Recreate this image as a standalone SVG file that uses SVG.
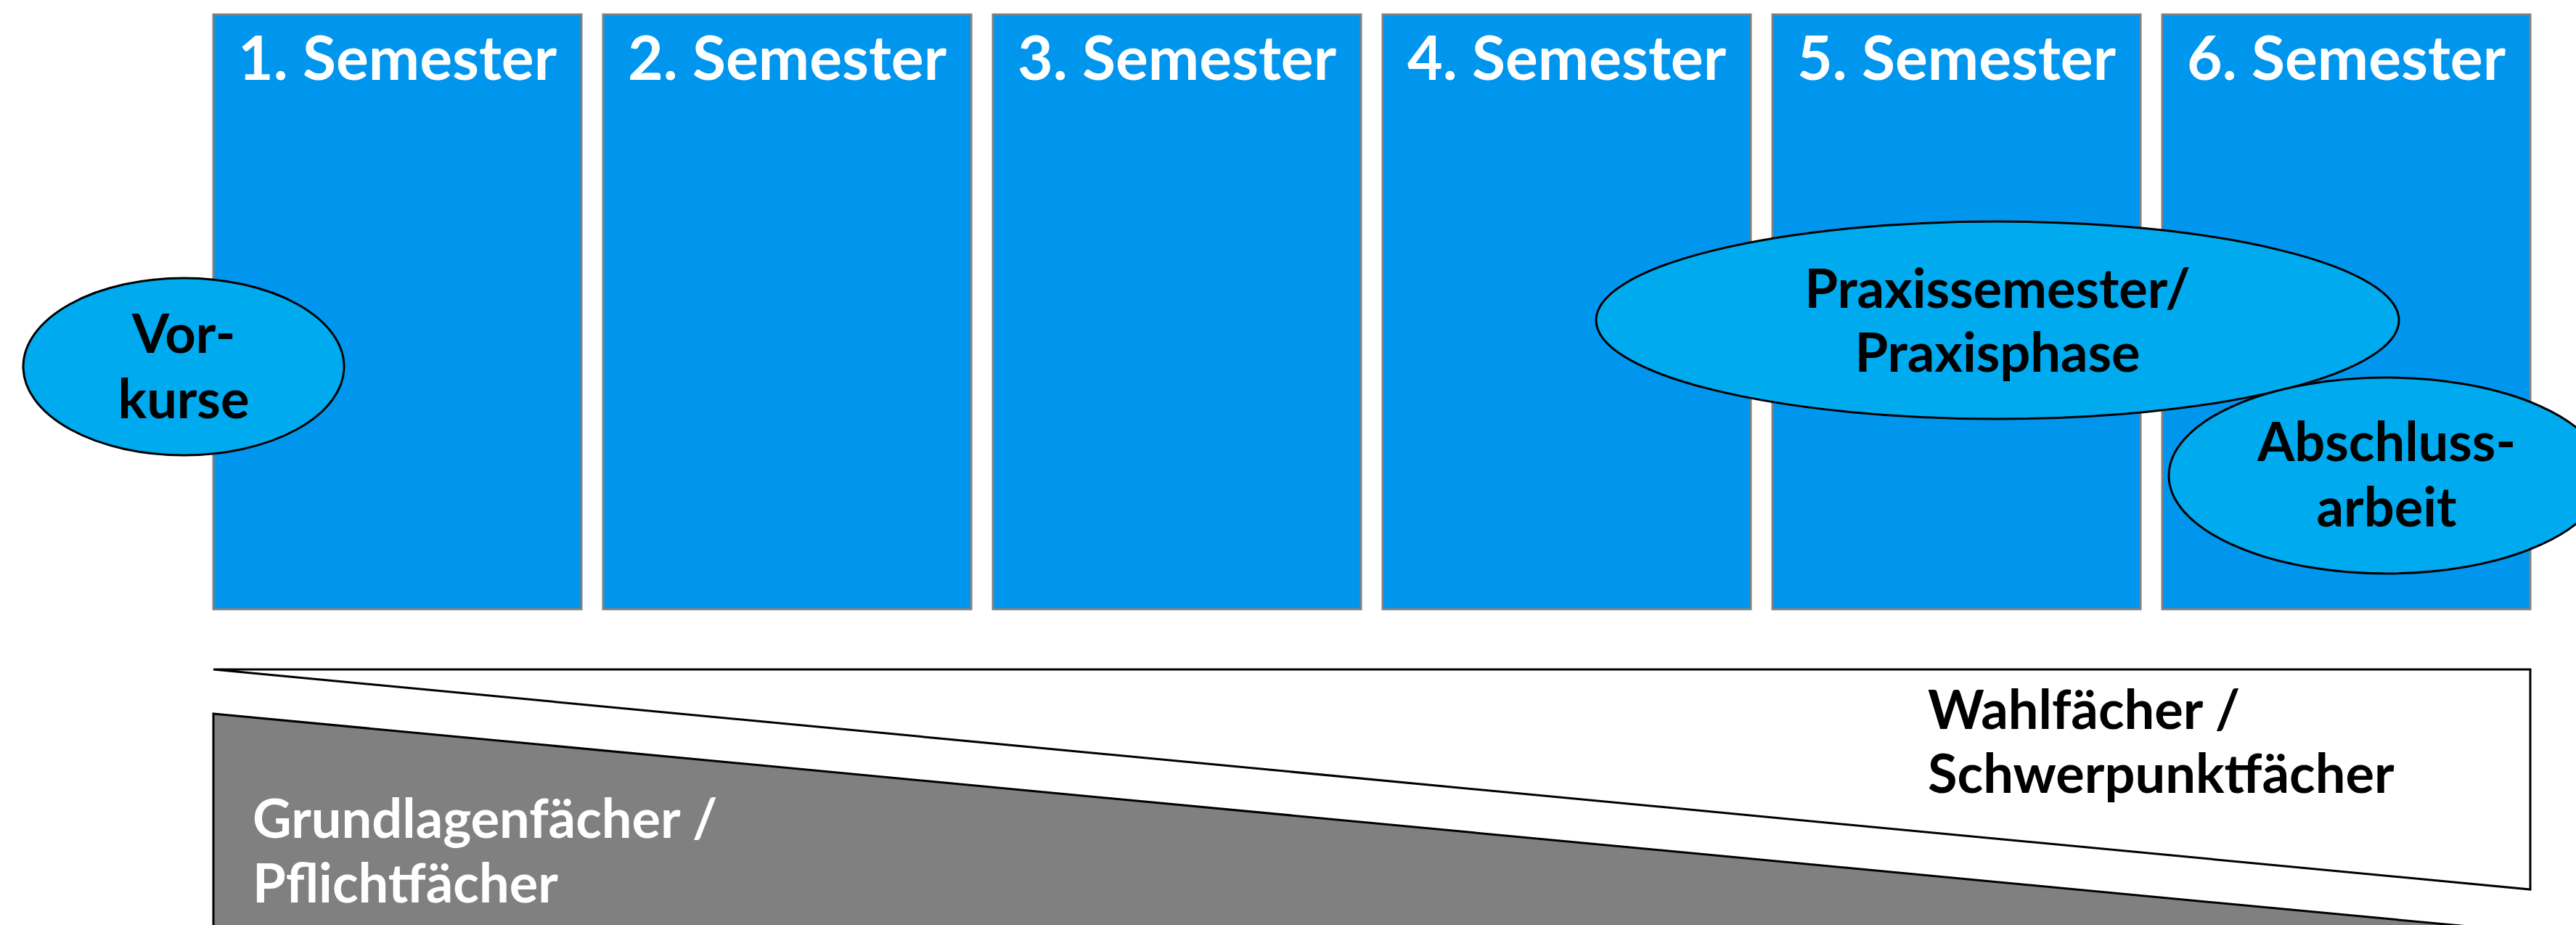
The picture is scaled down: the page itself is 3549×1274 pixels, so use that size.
<svg xmlns="http://www.w3.org/2000/svg" width="3549" height="1274" viewBox="0 0 3549 1274">
<style>
.sem{fill:#0096EE;stroke:#808080;stroke-width:3}
.ell{fill:#00AAEE;stroke:#000;stroke-width:3}
.st{font-family:Lato,"Open Sans",sans-serif;font-weight:bold;font-size:84px;fill:#fff;text-anchor:middle}
.lb{font-family:Lato,"Open Sans",sans-serif;font-weight:bold;font-size:74px;fill:#000;text-anchor:middle}
.lw{font-family:Lato,"Open Sans",sans-serif;font-weight:bold;font-size:74px}
</style>
<rect width="3549" height="1274" fill="#fff"/>
<g id="sem1"><rect class="sem" x="294" y="20" width="507" height="819"/><text class="st" x="547.5" y="110">1. Semester</text></g>
<g id="sem2"><rect class="sem" x="831" y="20" width="507" height="819"/><text class="st" x="1084.5" y="110">2. Semester</text></g>
<g id="sem3"><rect class="sem" x="1368" y="20" width="507" height="819"/><text class="st" x="1621.5" y="110">3. Semester</text></g>
<g id="sem4"><rect class="sem" x="1905" y="20" width="507" height="819"/><text class="st" x="2158.5" y="110">4. Semester</text></g>
<g id="sem5"><rect class="sem" x="2442" y="20" width="507" height="819"/><text class="st" x="2695.5" y="110">5. Semester</text></g>
<g id="sem6"><rect class="sem" x="2979" y="20" width="507" height="819"/><text class="st" x="3232.5" y="110">6. Semester</text></g>
<g id="vorkurse"><ellipse class="ell" cx="253" cy="505" rx="221" ry="122"/><text class="lb" x="253" y="486">Vor-</text><text class="lb" x="253" y="576">kurse</text></g>
<g id="praxis"><ellipse class="ell" cx="2752" cy="441" rx="553" ry="136"/><text class="lb" x="2752" y="424">Praxissemester/</text><text class="lb" x="2752" y="512">Praxisphase</text></g>
<g id="abschluss"><ellipse class="ell" cx="3288" cy="655" rx="300" ry="135"/><text class="lb" x="3288" y="635">Abschluss-</text><text class="lb" x="3288" y="725">arbeit</text></g>
<g id="wahl"><polygon points="294,922 3486,922 3486,1225" fill="#fff" stroke="#000" stroke-width="3" stroke-linejoin="miter"/><text class="lw" fill="#000" x="2656" y="1004">Wahlfächer /</text><text class="lw" fill="#000" x="2656" y="1092">Schwerpunktfächer</text></g>
<g id="grundlagen"><polygon points="294,983 3486,1284 3486,1300 294,1300" fill="#808080" stroke="#000" stroke-width="3"/><text class="lw" fill="#fff" x="348" y="1154">Grundlagenfächer /</text><text class="lw" fill="#fff" x="348" y="1243">Pflichtfächer</text></g>
<g id="connectors"/>
</svg>
